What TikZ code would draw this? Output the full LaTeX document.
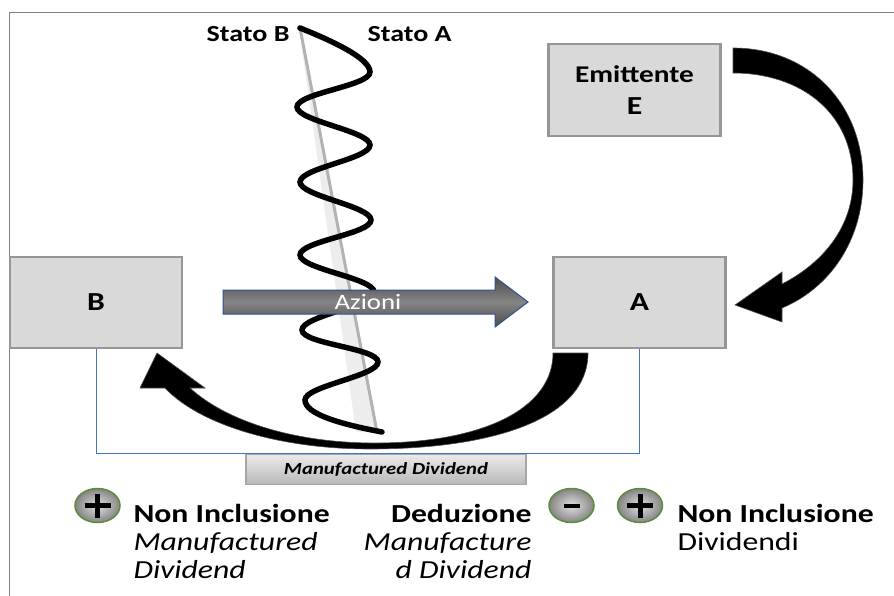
\documentclass[tikz,border=0pt]{standalone}
\usepackage{fontspec}
\setmainfont{Carlito}[FakeStretch=1.22]
\usetikzlibrary{positioning,shapes.geometric}
\definecolor{boxgray}{RGB}{217,217,217}
\definecolor{edgegray}{RGB}{150,150,150}
\definecolor{lineblue}{RGB}{68,114,196}
\definecolor{arrowblue}{RGB}{47,82,143}
\definecolor{signgreen}{RGB}{90,140,60}

\begin{document}
\begin{tikzpicture}[x=1pt,y=-1pt,line width=1pt,
  box/.style={draw=edgegray,line width=2.5pt,fill=boxgray,minimum width=172pt,minimum height=91pt,inner sep=0pt},
  big/.style={font=\fontsize{26}{28}\selectfont\bfseries},
  txt/.style={inner sep=0pt,font=\fontsize{26}{28}\selectfont},
  sign/.style={ellipse,draw=signgreen,line width=1.5pt,inner color=black!12,outer color=black!48,minimum width=45pt,minimum height=34pt,inner sep=0pt},
  plussign/.style={path picture={
    \draw[black,line width=5pt] ([xshift=-13pt]path picture bounding box.center) -- ([xshift=13pt]path picture bounding box.center);
    \draw[black,line width=5pt] ([yshift=-12pt]path picture bounding box.center) -- ([yshift=12pt]path picture bounding box.center);}},
  minussign/.style={path picture={
    \draw[black,line width=4pt] ([xshift=-8pt]path picture bounding box.center) -- ([xshift=8pt]path picture bounding box.center);}},
  bigarrow/.style={fill=black,draw=black!70,line width=0.6pt}]

\useasboundingbox (0,0) rectangle (894,596);
\draw[black!50] (894,13) -- (9,13) -- (9,596);

% border between the two states
\fill[black!7] (299,28) -- (301,28) -- (378,432) -- (356,432) -- cycle;
\draw[black!30,line width=3pt] (300,28) -- (377,432);
\draw[line width=5.5pt,line cap=round] (300,28) .. controls (330,40) and (370,58) .. (370,72)
  .. controls (370,86) and (297,93) .. (297,107)
  .. controls (297,121) and (370,131) .. (370,145)
  .. controls (370,159) and (300,168) .. (300,182)
  .. controls (300,196) and (371,206) .. (371,220)
  .. controls (371,234) and (300,241) .. (300,255)
  .. controls (300,269) and (374,278) .. (374,292)
  .. controls (374,306) and (302,316) .. (302,330)
  .. controls (302,344) and (378,348) .. (378,362)
  .. controls (378,376) and (305,386) .. (305,400)
  .. controls (305,414) and (340,424) .. (382,432);
\node[txt,anchor=base east,font=\fontsize{23}{26}\selectfont\bfseries] (sb) at (290,42) {Stato B};
\node[txt,anchor=base west,font=\fontsize{23}{26}\selectfont\bfseries] (sa) at (367,42) {Stato A};

\node[box,big] (b) at (96,302.5) {B};
\node[box,big] (a) at (639.5,302.5) {A};
\node[box,minimum height=92pt,align=center,font=\fontsize{24}{32}\selectfont\bfseries] (e) at (634.5,90) {Emittente\\{\fontsize{26}{32}\selectfont E}};

\draw[lineblue] (b.south) -- ++(0,104) -| (a.south);

% shares from B to A
\draw[arrowblue,top color=black!70,bottom color=black!70,middle color=black!48] (223,290) -- (495,290) -- (495,277) -- (528,302) -- (495,327) -- (495,314) -- (223,314) -- cycle;
\node[inner sep=0pt,text=white,font=\fontsize{22}{24}\selectfont] (az) at (368,302) {Azioni};

% E pays A, A pays B
\draw[bigarrow] (733,48) .. controls (810,48) and (863,105) .. (863,180)
  .. controls (863,240) and (830,288) .. (782,308) -- (782,322) -- (735,305) -- (782,272) -- (782,284)
  .. controls (825,262) and (853,225) .. (853,180) .. controls (853,112) and (800,73) .. (733,73) -- cycle;
\draw[bigarrow] (588,353) .. controls (588,420) and (490,449) .. (370,449)
  .. controls (280,449) and (200,425) .. (165,388) -- (140,388) -- (157,353) -- (205,388) -- (190,388)
  .. controls (225,420) and (290,442) .. (370,443) .. controls (480,444) and (553,410) .. (553,353) -- cycle;

\node[draw=black!35,line width=1.5pt,top color=black!8,bottom color=black!28,minimum width=280pt,minimum height=30pt,inner sep=0pt,font=\fontsize{17}{20}\selectfont\bfseries\itshape] (md) at (386,469.5) {Manufactured Dividend};

\node[sign,plussign] (s1) at (97.5,505.5) {};
\node[sign,minussign] (s2) at (571.5,505.5) {};
\node[sign,plussign] (s3) at (640,505.5) {};

\node[txt,anchor=base west] (l1) at (133,522) {\bfseries Non Inclusione};
\node[txt,anchor=base west] (l2) at ([yshift=-28pt]l1.base west) {\itshape Manufactured};
\node[txt,anchor=base west] (l3) at ([yshift=-28pt]l2.base west) {\itshape Dividend};

\node[txt,anchor=base east] (m1) at (532,522) {\bfseries Deduzione};
\node[txt,anchor=base east] (m2) at ([yshift=-28pt]m1.base east) {\itshape Manufacture};
\node[txt,anchor=base east] (m3) at ([yshift=-28pt]m2.base east) {\itshape d Dividend};

\node[txt,anchor=base west] (r1) at (677,522) {\bfseries Non Inclusione};
\node[txt,anchor=base west] (r2) at ([yshift=-28pt]r1.base west) {Dividendi};
\end{tikzpicture}
\end{document}
